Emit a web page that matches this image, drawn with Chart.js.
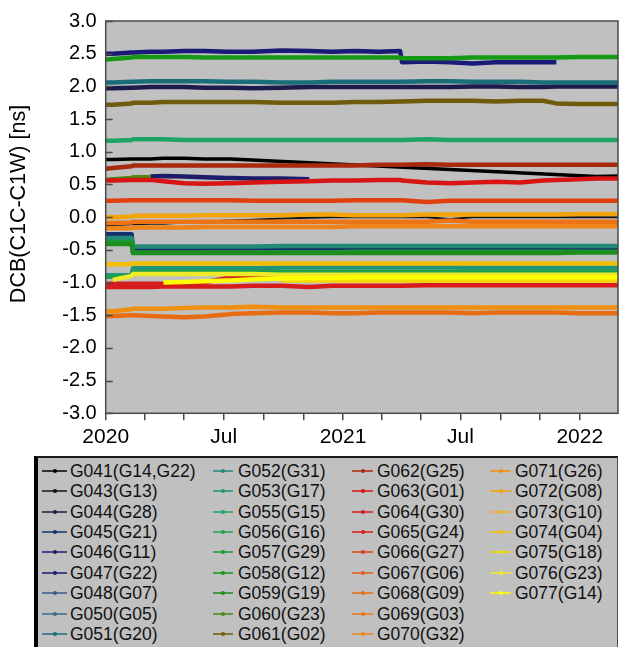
<!DOCTYPE html>
<html>
<head>
<meta charset="utf-8">
<script src="https://cdn.jsdelivr.net/npm/chart.js@4.4.1/dist/chart.umd.min.js"></script>
<style>
  html, body { margin: 0; padding: 0; background: #fff; width: 622px; height: 647px; overflow: hidden;
               font-family: "Liberation Sans", Arial, sans-serif; }
  #wrap { position: absolute; left: 0; top: 0; width: 622px; height: 455px; }
  #legend { position: absolute; left: 34px; top: 456px; width: 584px; height: 200px; background: #c0c0c0;
            box-sizing: border-box; border-left: 4px solid #000; border-top: 2px solid #1a1a1a; border-right: 1px solid #4a4a4a; }
  .mk { position: absolute; height: 2px; }
  .bar { position: absolute; left: 0; top: 0; width: 100%; height: 100%; opacity: 0.75; }
  .dot { position: absolute; width: 4px; height: 4px; border-radius: 50%; top: -1px; }
  .tx { position: absolute; white-space: nowrap; font-size: 17.5px; line-height: 20px; color: #111; }
</style>
</head>
<body>
<div id="wrap"><canvas id="c" width="622" height="455"></canvas></div>
<div id="legend"></div>
<script>
// Epochs at which the DCB estimates are sampled (step changes get a point on each side)
const sampleDates = [
  '2020-01-01','2020-01-12','2020-02-10','2020-02-12','2020-03-10','2020-03-30','2020-05-01',
  '2020-06-01','2020-07-06','2020-07-12','2020-08-15','2020-09-28','2020-11-10','2020-12-15',
  '2021-01-20','2021-02-25','2021-03-30','2021-04-02','2021-05-10','2021-06-15','2021-07-20',
  '2021-08-25','2021-10-01','2021-11-05','2021-11-26','2021-12-30','2022-01-27','2022-03-01'
];

// DCB(C1C-C1W) per receiver/satellite, in ns (null = no estimate)
const s041 = [0.88,0.88,0.89,0.89,0.89,0.90,0.90,0.89,0.89,0.89,null,null,null,null,null,null,null,null,null,null,null,null,null,null,null,null,0.62,0.63];
const s043 = [-0.12,-0.12,-0.11,-0.11,-0.10,-0.10,-0.08,-0.07,-0.05,-0.05,-0.04,-0.02,-0.01,0.0,0.0,0.0,0.0,0.0,0.0,-0.03,0.0,0.0,0.0,0.0,0.0,0.0,0.0,0.0];
const s044 = [1.97,1.97,1.98,1.98,1.99,1.99,1.99,1.98,1.98,1.98,1.97,1.98,1.99,1.99,1.99,1.99,1.99,1.99,1.99,1.99,2.00,2.00,1.99,1.99,2.00,2.00,2.00,2.00];
const s045 = [-0.26,-0.26,-0.26,-0.49,-0.49,-0.49,-0.49,-0.48,-0.48,-0.48,-0.48,-0.48,-0.48,-0.48,-0.48,-0.48,-0.48,-0.48,-0.48,-0.48,-0.48,-0.48,-0.48,-0.48,-0.48,-0.48,-0.48,-0.48];
const s046 = [null,null,null,null,0.62,0.63,0.62,0.61,0.60,0.60,0.59,0.59,0.58];
const s047 = [2.50,2.50,2.52,2.52,2.53,2.53,2.54,2.54,2.53,2.53,2.53,2.55,2.54,2.53,2.54,2.53,2.54,2.37,2.38,2.37,2.35,2.37,2.37,2.37,2.37];
const s048 = [];
const s050 = [];
const s051 = [2.06,2.06,2.07,2.07,2.08,2.08,2.08,2.08,2.07,2.07,2.07,2.06,2.06,2.07,2.07,2.07,2.07,2.07,2.08,2.08,2.07,2.07,2.07,2.06,2.06,2.06,2.06,2.06];
const s052 = [-0.32,-0.32,-0.32,-0.45,-0.45,-0.45,-0.45,-0.45,-0.45,-0.45,-0.45,-0.44,-0.44,-0.44,-0.44,-0.44,-0.44,-0.44,-0.44,-0.44,-0.44,-0.44,-0.44,-0.44,-0.44,-0.44,-0.44,-0.44];
const s053 = [-0.89,-0.89,-0.89,-0.78,-0.78,-0.78,-0.78,-0.78,-0.78,-0.78,-0.78,-0.77,-0.77,-0.77,-0.77,-0.77,-0.77,-0.77,-0.77,-0.77,-0.77,-0.77,-0.77,-0.77,-0.77,-0.77,-0.77,-0.77];
const s055 = [1.17,1.17,1.18,1.19,1.19,1.19,1.18,1.18,1.18,1.18,1.18,1.18,1.18,1.18,1.18,1.18,1.18,1.18,1.19,1.18,1.18,1.18,1.18,1.18,1.18,1.18,1.18,1.18];
const s056 = [-0.91,-0.91,-0.90,-0.84,-0.84,-0.84,-0.84,-0.84,-0.84,-0.84,-0.84,-0.84,-0.84,-0.84,-0.84,-0.84,-0.84,-0.84,-0.84,-0.84,-0.83,-0.83,-0.83,-0.83,-0.83,-0.83,-0.83,-0.83];
const s057 = [-0.38,-0.38,-0.38,-0.54,-0.54,-0.54,-0.54,-0.54,-0.54,-0.54,-0.54,-0.54,-0.54,-0.54,-0.53,-0.53,-0.53,-0.53,-0.53,-0.53,-0.53,-0.53,-0.53,-0.53,-0.53,-0.53,-0.53,-0.53];
const s058 = [2.41,2.42,2.44,2.45,2.45,2.45,2.45,2.44,2.44,2.44,2.44,2.44,2.44,2.44,2.44,2.44,2.44,2.43,2.43,2.43,2.44,2.44,2.44,2.44,2.44,2.45,2.45,2.45];
const s059 = [-0.41,-0.41,-0.41,-0.55,-0.55,-0.55,-0.55,-0.55,-0.55,-0.55,-0.55,-0.55,-0.55,-0.55,-0.55,-0.55,-0.55,-0.55,-0.55,-0.55,-0.55,-0.55,-0.55,-0.55,-0.55,-0.54,-0.54,-0.54];
const s060 = [0.57,0.58,0.60,0.61,0.61];
const s061 = [1.72,1.72,1.74,1.75,1.75,1.76,1.76,1.76,1.76,1.76,1.76,1.75,1.75,1.75,1.76,1.76,1.77,1.77,1.78,1.78,1.78,1.77,1.78,1.78,1.74,1.73,1.73,1.73];
const s062 = [0.74,0.75,0.78,0.79,0.79,0.79,0.79,0.79,0.79,0.79,0.79,0.79,0.79,0.79,0.79,0.80,0.80,0.80,0.81,0.80,0.80,0.80,0.80,0.80,0.80,0.80,0.80,0.80];
const s063 = [0.56,0.56,0.57,0.57,0.57,0.55,0.52,0.51,0.52,0.52,0.53,0.54,0.55,0.56,0.56,0.57,0.57,0.56,0.53,0.52,0.53,0.54,0.53,0.56,0.57,0.58,0.59,0.59];
const s064 = [-1.02,-1.02,-1.02,-1.02,-1.02,-1.02,-1.01,-1.00,-0.93,-0.92,-0.92,-0.93,-0.93,-0.93,-0.93,-0.93,-0.93,-0.93,-0.93,-0.93,-0.93,-0.93,-0.93,-0.93,-0.93,-0.93,-0.93,-0.93];
const s065 = [-1.07,-1.07,-1.07,-1.07,-1.07,-1.06,-1.06,-1.06,-1.06,-1.06,-1.05,-1.05,-1.07,-1.05,-1.05,-1.05,-1.05,-1.05,-1.04,-1.04,-1.04,-1.04,-1.04,-1.04,-1.04,-1.04,-1.04,-1.04];
const s066 = [0.25,0.25,0.26,0.26,0.26,0.26,0.26,0.26,0.26,0.26,0.25,0.25,0.25,0.25,0.26,0.26,0.26,0.26,0.23,0.25,0.25,0.25,0.25,0.25,0.25,0.25,0.25,0.25];
const s067 = [];
const s068 = [-1.51,-1.51,-1.50,-1.50,-1.51,-1.52,-1.53,-1.52,-1.49,-1.48,-1.47,-1.46,-1.46,-1.47,-1.47,-1.46,-1.46,-1.46,-1.46,-1.46,-1.47,-1.46,-1.46,-1.46,-1.46,-1.47,-1.47,-1.47];
const s069 = [-0.09,-0.09,-0.08,-0.07,-0.07,-0.07,-0.07,-0.07,-0.07,-0.07,-0.07,-0.07,-0.07,-0.07,-0.07,-0.07,-0.07,-0.07,-0.07,-0.05,-0.07,-0.07,-0.07,-0.07,-0.07,-0.07,-0.07,-0.07];
const s070 = [-0.17,-0.17,-0.17,-0.16,-0.16,-0.16,-0.16,-0.15,-0.15,-0.15,-0.15,-0.15,-0.15,-0.15,-0.14,-0.14,-0.14,-0.14,-0.14,-0.14,-0.14,-0.14,-0.14,-0.14,-0.14,-0.14,-0.14,-0.14];
const s071 = [-1.44,-1.44,-1.41,-1.40,-1.40,-1.40,-1.39,-1.38,-1.38,-1.38,-1.37,-1.38,-1.38,-1.38,-1.38,-1.38,-1.38,-1.38,-1.38,-1.38,-1.38,-1.38,-1.38,-1.38,-1.38,-1.38,-1.38,-1.38];
const s072 = [0.00,0.00,0.01,0.02,0.02,0.02,0.02,0.03,0.03,0.03,0.03,0.03,0.04,0.04,0.03,0.03,0.03,0.03,0.04,0.04,0.04,0.04,0.04,0.04,0.04,0.05,0.05,0.05];
const s073 = [];
const s074 = [-0.72,-0.72,-0.72,-0.71,-0.71,-0.71,-0.71,-0.71,-0.71,-0.71,-0.71,-0.71,-0.71,-0.71,-0.71,-0.71,-0.71,-0.71,-0.71,-0.71,-0.71,-0.71,-0.71,-0.71,-0.71,-0.71,-0.71,-0.71];
const s075 = [null,null,null,null,null,null,null,null,null,null,null,-0.97,-0.97,-0.97,-0.97,-0.97,-0.97,-0.97,-0.97,-0.97,-0.97,-0.97,-0.97,-0.97,-0.97,-0.97,-0.97,-0.97];
const s076 = [null,-0.96,-0.90,-0.87,-0.87,-0.87,-0.87,-0.87,-0.87,-0.87,-0.87,-0.88,-0.88,-0.88,-0.88,-0.88,-0.88,-0.88,-0.88,-0.88,-0.88,-0.88,-0.88,-0.88,-0.88,-0.88,-0.88,-0.88];
const s077 = [null,null,null,null,null,-1.00,-0.99,-0.98,-0.97,-0.97,-0.95,-0.94,-0.93,-0.93,-0.92,-0.92,-0.92,-0.92,-0.92,-0.92,-0.92,-0.92,-0.92,-0.92,-0.92,-0.92,-0.92,-0.92];

const seriesNames = [
  'G041(G14,G22)','G043(G13)','G044(G28)','G045(G21)','G046(G11)','G047(G22)','G048(G07)','G050(G05)','G051(G20)',
  'G052(G31)','G053(G17)','G055(G15)','G056(G16)','G057(G29)','G058(G12)','G059(G19)','G060(G23)','G061(G02)',
  'G062(G25)','G063(G01)','G064(G30)','G065(G24)','G066(G27)','G067(G06)','G068(G09)','G069(G03)','G070(G32)',
  'G071(G26)','G072(G08)','G073(G10)','G074(G04)','G075(G18)','G076(G23)','G077(G14)'
];
const seriesValues = [
  s041,s043,s044,s045,s046,s047,s048,s050,s051,
  s052,s053,s055,s056,s057,s058,s059,s060,s061,
  s062,s063,s064,s065,s066,s067,s068,s069,s070,
  s071,s072,s073,s074,s075,s076,s077
];
const seriesColors = [
  '#000000','#141414','#1c1c4c','#14306e','#1c1c6a','#1a1a78','#3a5a8a','#3c6c8c','#1a6e7a',
  '#238a78','#1f9478','#1ea266','#1ea050','#1a9a34','#169a16','#1d8e1d','#4a8a12','#6e5c0c',
  '#a82a0e','#d81414','#d42020','#d81c1c','#e0400e','#e8581a','#e86c12','#ec7416','#f08418',
  '#f08e10','#f2a40a','#f0b228','#f4be06','#f5d800','#eeea2a','#ffff00'
];

// Axis tick marks every two months; only January and July are labelled
const xTickDates  = ['2020-01-01','2020-03-01','2020-05-01','2020-07-01','2020-09-01','2020-11-01',
                     '2021-01-01','2021-03-01','2021-05-01','2021-07-01','2021-09-01','2021-11-01','2022-01-01'];
const xTickLabels = ['2020','','','Jul','','','2021','','','Jul','','','2022'];
const xEnd = '2022-03-01';
const yTitle = 'DCB(C1C-C1W) [ns]';

const dayOf = s => { const [y, m, d] = s.split('-').map(Number); return (Date.UTC(y, m - 1, d) - Date.UTC(2020, 0, 1)) / 86400000; };

const datasets = seriesNames.map((name, i) => ({
  label: name,
  data: sampleDates.map((d, k) => ({ x: dayOf(d), y: seriesValues[i][k] ?? null })),
  borderColor: seriesColors[i],
  backgroundColor: seriesColors[i],
  borderWidth: i === 1 ? 2 : (i === 0 ? 3.5 : 4.5),
  pointRadius: 0,
  tension: 0,
  borderCapStyle: 'butt',
  borderJoinStyle: 'round',
  spanGaps: i === 0,
  order: -i,
  segment: {
    // the long outage of G041 is bridged with a thin connector
    borderWidth: ctx => (ctx.p1.parsed.x - ctx.p0.parsed.x > 100 ? 1 : undefined)
  }
}));

const FONT = '"Liberation Sans", Arial, sans-serif';

const plotFrame = {
  id: 'plotFrame',
  beforeDraw(chart) {
    const { ctx, chartArea: a } = chart;
    ctx.save();
    ctx.fillStyle = '#c0c0c0';
    ctx.fillRect(a.left, a.top, a.right - a.left, a.bottom - a.top);
    ctx.restore();
  },
  afterDatasetsDraw(chart) {
    const { ctx, chartArea: a, scales: { y } } = chart;
    ctx.save();
    ctx.strokeStyle = '#4a4a4a';
    ctx.lineWidth = 1.5;
    y.ticks.forEach(t => {
      const py = Math.round(y.getPixelForValue(t.value)) + 0.5;
      ctx.beginPath(); ctx.moveTo(a.left, py); ctx.lineTo(a.left + 7, py); ctx.stroke();
    });
    ctx.strokeRect(a.left, a.top, a.right - a.left, a.bottom - a.top);
    ctx.restore();
  },
  afterDraw(chart) {
    const { ctx } = chart;
    ctx.save();
    ctx.translate(19, 204);
    ctx.rotate(-Math.PI / 2);
    ctx.font = '21.5px ' + FONT;
    ctx.fillStyle = '#000';
    ctx.textAlign = 'center';
    ctx.textBaseline = 'middle';
    ctx.fillText(yTitle, 0, 0);
    ctx.restore();
  }
};

const chart = new Chart(document.getElementById('c'), {
  type: 'line',
  data: { datasets },
  options: {
    responsive: false,
    devicePixelRatio: 1,
    animation: false,
    layout: { padding: { top: 19.5, right: 4, left: 0, bottom: 0 } },
    plugins: { legend: { display: false }, tooltip: { enabled: false } },
    scales: {
      x: {
        type: 'linear',
        min: dayOf(xTickDates[0]),
        max: dayOf(xEnd),
        border: { display: false },
        grid: { display: true, drawOnChartArea: false, drawTicks: true, tickLength: 7, color: '#4a4a4a', lineWidth: 1.5 },
        afterBuildTicks: scale => { scale.ticks = xTickDates.map(d => ({ value: dayOf(d) })); },
        afterFit: scale => { scale.height = 41.7; },
        ticks: {
          autoSkip: false, maxRotation: 0, minRotation: 0, padding: 4,
          color: '#000', font: { family: FONT, size: 21 },
          callback: (v, i) => xTickLabels[i]
        }
      },
      y: {
        min: -3, max: 3,
        border: { display: false },
        grid: { display: false, drawTicks: false },
        afterFit: scale => { scale.width = 105.7; },
        ticks: {
          stepSize: 0.5, padding: 9, color: '#000', font: { family: FONT, size: 20 },
          callback: v => Number(v).toFixed(1)
        }
      }
    }
  },
  plugins: [plotFrame]
});

// Legend: four columns filled top to bottom, nine entries per column
const legendBox = document.getElementById('legend');
const colLine = [[42, 67], [213, 233], [352, 373], [490, 511]];
const colText = [70, 238, 377, 515];
const ox = 38, oy = 458;
chart.data.datasets.forEach((ds, i) => {
  const c = Math.floor(i / 9), r = i % 9;
  const cy = 470.8 + r * 20.4;
  const w = colLine[c][1] - colLine[c][0];
  const mk = document.createElement('div');
  mk.className = 'mk';
  mk.style.left = (colLine[c][0] - ox) + 'px';
  mk.style.width = w + 'px';
  mk.style.top = (cy - 1 - oy) + 'px';
  const bar = document.createElement('div');
  bar.className = 'bar';
  bar.style.background = ds.borderColor;
  mk.appendChild(bar);
  const dot = document.createElement('div');
  dot.className = 'dot';
  dot.style.left = (w / 2 - 2) + 'px';
  dot.style.background = ds.borderColor;
  mk.appendChild(dot);
  legendBox.appendChild(mk);
  const tx = document.createElement('div');
  tx.className = 'tx';
  tx.style.left = (colText[c] - ox) + 'px';
  tx.style.top = (cy - 10 - oy) + 'px';
  tx.textContent = ds.label;
  legendBox.appendChild(tx);
});
</script>
</body>
</html>
